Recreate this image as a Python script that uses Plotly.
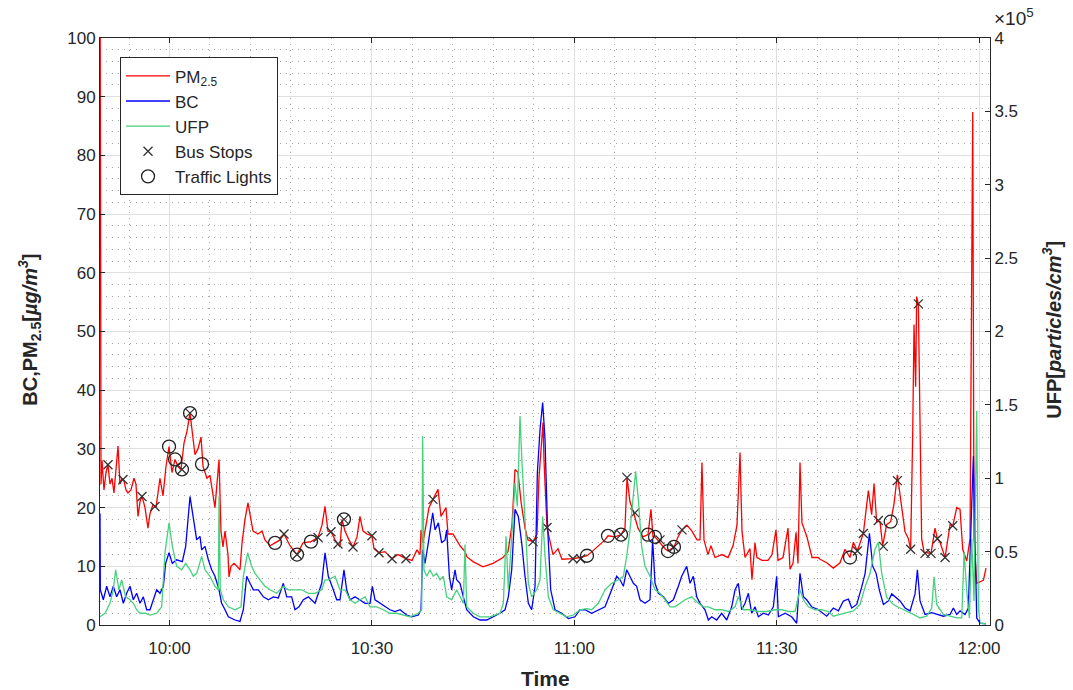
import pandas as pd
import plotly.graph_objects as go

# Measurement run, times given as minutes after 10:00
BASE = pd.Timestamp("2017-03-14 10:00:00")

pm_min = [-10.30, -10.15, -10.00, -9.71, -9.41, -9.12, -8.82, -8.52, -8.23, -7.93, -7.63, -7.34, -7.04,
          -6.74, -6.45, -6.15, -5.71, -5.26, -4.97, -4.67, -4.37, -4.08, -3.63, -3.19, -2.89, -2.45,
          -2.00, -1.41, -0.96, -0.52, -0.07, 0.37, 0.82, 1.26, 1.70, 2.15, 2.59, 3.04, 3.33, 3.78,
          4.22, 4.67, 4.97, 5.56, 6.00, 6.45, 6.74, 7.34, 7.63, 7.93, 8.23, 8.67, 8.82, 9.11, 9.56,
          10.00, 10.45, 10.75, 11.19, 11.63, 12.08, 12.38, 13.12, 13.71, 14.15, 14.90, 15.64, 16.38,
          16.97, 17.86, 18.90, 19.79, 20.97, 22.01, 22.60, 23.05, 23.49, 23.94, 24.53, 24.97, 25.27,
          25.57, 26.01, 26.60, 27.20, 27.79, 28.23, 28.68, 29.27, 30.01, 30.31, 31.05, 31.94, 32.98,
          33.87, 35.05, 35.94, 36.68, 37.13, 37.28, 37.57, 38.02, 38.46, 39.05, 39.80, 40.24, 40.98,
          41.28, 42.02, 43.06, 43.80, 44.09, 44.98, 46.46, 47.95, 49.43, 50.17, 50.76, 51.21, 51.65,
          52.10, 52.69, 53.13, 53.88, 54.47, 54.76, 55.36, 55.51, 55.80, 55.95, 56.84, 57.58, 58.17,
          59.80, 60.84, 61.88, 62.62, 63.51, 64.55, 64.99, 66.03, 66.92, 67.51, 67.81, 68.25, 68.70,
          69.44, 70.18, 70.92, 71.36, 71.66, 71.96, 72.55, 73.44, 73.88, 74.77, 75.37, 75.96, 76.70,
          77.44, 78.18, 78.63, 78.92, 79.22, 79.81, 80.26, 80.85, 81.89, 82.78, 83.52, 84.11, 84.56,
          84.85, 85.30, 86.04, 86.33, 86.78, 87.07, 87.82, 88.70, 89.30, 89.89, 90.19, 90.93, 91.67,
          91.97, 92.41, 92.86, 93.15, 93.45, 93.74, 94.48, 95.23, 96.12, 96.42, 97.41, 98.39, 99.38,
          100.12, 100.86, 101.36, 101.95, 102.84, 103.58, 104.07, 104.42, 104.81, 105.31, 105.70,
          106.29, 106.89, 107.38, 107.88, 108.52, 109.01, 109.51, 109.85, 110.15, 110.35, 110.59,
          110.74, 110.99, 111.24, 111.48, 111.83, 112.87, 113.46, 113.81, 114.21, 114.95, 115.69,
          116.09, 116.68, 117.17, 117.57, 118.16, 118.65, 119.05, 119.24, 119.64, 120.63, 121.02]
pm_val = [120, 24, 28, 23, 26, 27.3, 24, 25, 22.5, 26, 30.5, 24, 25,
          24.5, 23, 22.5, 23, 25, 24, 18.5, 21, 22, 20, 16.5, 19, 20.5,
          20, 25, 22, 27, 30.4, 26, 28.2, 27, 26.5, 31, 33, 36.1, 33, 29,
          30, 32, 27, 25, 25.5, 22, 20, 28.2, 16, 13.3, 16, 12, 8.2, 10, 10.5,
          10, 9.4, 14, 18, 20.8, 18, 16, 15.5, 16, 14.5, 13.5, 14, 14.5,
          15.5, 13.5, 12, 14, 14.2, 14.9, 17, 20.2, 16, 15.9, 14.5, 13.8, 13.3,
          18, 16, 14.5, 13.3, 15, 18.5, 16, 15.5, 15.2, 13, 12.3, 12.5, 11.3,
          12, 11.3, 11, 12.8, 12, 16.2, 14, 17, 20, 21.4, 23.1, 18.5, 20,
          15.5, 15.5, 13.5, 12.5, 11.6, 10.8, 9.9, 10.5, 11.5, 12.5, 17, 26.5, 26,
          21, 16.5, 14.5, 14.2, 15.5, 25, 34.5, 28, 18, 16.6, 12, 13, 11.2,
          11.3, 11.5, 11.8, 12.5, 13.5, 14.5, 15.2, 15, 15.4, 16.5, 25.1, 21, 19.5,
          16.5, 15, 15.4, 19.7, 15, 15, 14.2, 13, 12.6, 13.3, 15, 16.2, 17,
          16, 14.5, 14.5, 27.7, 14.5, 12, 13.5, 11.5, 12, 11.5, 13.5, 17, 29.4,
          16, 11.5, 13, 7.7, 14, 11.5, 11, 11, 12, 16.2, 11, 11.5, 16.5,
          9.5, 10.5, 15.8, 10.5, 27.7, 17.4, 15, 11.5, 11.5, 11.2, 10.6, 9.7, 10.6,
          12.9, 11.5, 14.1, 12.6, 15.6, 22.9, 18.8, 24.1, 17.6, 17.6, 13.5,
          17.1, 17.6, 20.6, 25.6, 20.6, 15.9, 14.7, 12.9, 32.4, 51.2, 40.6,
          55.9, 54.7, 32.4, 14.7, 12.4, 12.2, 16.5, 14.7, 14.1, 11.5, 17.1,
          16.9, 20.0, 19.7, 12.9, 10.9, 14.7, 87.4, 14.7, 7.1, 7.6, 9.7]

bc_min = [-10.30, -10.25, -9.81, -9.31, -8.82, -8.33, -7.83, -7.34, -6.84, -6.35, -5.85, -5.36, -4.87,
          -4.37, -3.88, -3.38, -2.89, -2.40, -1.90, -1.41, -0.91, -0.57, -0.07, 0.42, 1.06, 1.90,
          2.40, 3.04, 3.53, 4.03, 4.52, 4.77, 5.26, 5.76, 6.25, 6.74, 7.34, 7.73, 8.23, 8.72, 9.71,
          10.45, 10.94, 11.44, 11.93, 12.43, 13.17, 13.91, 14.65, 15.39, 16.13, 16.87, 17.37, 18.11,
          18.60, 19.19, 19.84, 20.58, 21.57, 22.56, 23.05, 23.54, 24.28, 24.78, 25.27, 25.86, 26.26,
          26.75, 27.50, 28.24, 28.98, 29.72, 30.07, 30.46, 31.20, 31.94, 32.68, 33.42, 34.17, 35.15,
          35.89, 36.88, 37.28, 37.52, 37.87, 38.36, 39.01, 39.36, 39.85, 40.34, 40.84, 41.08, 41.48,
          41.82, 42.32, 42.56, 43.06, 43.55, 44.05, 45.03, 46.02, 47.01, 48.00, 48.99, 49.73, 50.22,
          50.72, 51.21, 51.70, 52.20, 52.69, 53.19, 53.68, 54.18, 54.52, 54.92, 55.31, 55.66, 56.01,
          56.50, 57.14, 58.13, 59.12, 60.10, 60.84, 61.58, 62.57, 63.56, 64.55, 65.54, 66.28, 66.77,
          67.27, 67.76, 68.26, 68.75, 69.24, 69.74, 70.48, 71.22, 71.61, 71.96, 72.46, 73.20, 73.94,
          74.68, 75.42, 75.91, 76.66, 77.15, 77.64, 78.14, 78.63, 79.37, 79.87, 80.36, 81.10, 81.84,
          82.59, 83.33, 83.82, 84.31, 84.81, 85.30, 85.80, 86.29, 86.78, 87.28, 88.02, 88.76, 89.50,
          89.99, 90.24, 91.23, 92.21, 92.96, 93.45, 93.95, 94.44, 95.18, 96.17, 97.41, 98.39, 99.14,
          99.88, 100.62, 101.12, 101.86, 102.60, 103.10, 103.74, 104.23, 104.73, 105.22, 105.81,
          106.55, 107.05, 107.69, 108.28, 109.02, 109.76, 110.50, 110.85, 111.24, 111.98, 112.97,
          113.71, 114.70, 115.69, 116.18, 116.68, 117.17, 117.91, 118.40, 118.90, 119.15, 119.39,
          119.64, 120.14, 121.00]
bc_val = [19, 6.0, 4.3, 6.6, 4.8, 6.6, 4.8, 6.0, 3.7, 5.4, 6.6, 4.3, 5.4,
          3.7, 4.8, 2.6, 2.6, 4.3, 6.0, 5.4, 6.6, 10.5, 12.3, 10.5, 11.1, 10.8,
          13.4, 21.9, 18.5, 14.5, 15.1, 12.8, 13.4, 11.1, 9.4, 8.3, 6.0, 3.7, 2.6, 1.4, 0.85,
          0.6, 2.6, 8.3, 7.1, 6.0, 6.0, 4.8, 4.3, 4.8, 4.6, 7.1, 4.8, 4.8,
          2.6, 3.1, 4.3, 4.8, 3.7, 7.1, 12.3, 8.3, 6.0, 4.3, 4.3, 9.4, 6.0,
          4.3, 4.8, 4.3, 3.7, 3.7, 6.6, 4.3, 3.7, 3.1, 2.6, 2.3, 2.6, 1.7,
          1.4, 1.7, 2.6, 12.8, 10.5, 14.0, 19.1, 16.2, 17.4, 14.0, 14.5, 16.2, 8.3,
          6.0, 9.4, 7.7, 7.1, 4.8, 2.6, 1.4, 0.85, 0.85, 1.4, 2.0, 2.6, 4.8,
          9.4, 19.7, 18.5, 14.0, 8.3, 3.7, 2.6, 6.6, 25.9, 33.3, 37.9, 31.6, 17.4,
          6.0, 2.6, 2.0, 1.1, 1.4, 2.6, 2.6, 2.0, 2.6, 3.1, 6.0, 8.3, 7.7,
          6.6, 9.4, 8.3, 7.1, 6.6, 4.3, 3.7, 4.3, 14.5, 7.1, 5.4, 4.8, 3.7,
          4.3, 6.6, 8.3, 10.0, 7.1, 8.3, 4.8, 3.7, 2.6, 0.85, 1.4, 0.85, 2.0,
          0.85, 3.1, 6.0, 7.1, 2.6, 3.7, 5.4, 2.0, 3.1, 1.4, 2.0, 1.7, 3.1,
          8.3, 1.4, 2.0, 1.4, 0.3, 8.8, 4.8, 4.3, 3.1, 2.6, 1.5, 2.9, 2.4,
          4.1, 4.4, 2.9, 3.5, 6.5, 8.8, 15.6, 10.0, 8.8, 5.9, 3.5,
          4.1, 5.3, 4.7, 4.1, 2.9, 2.4, 5.3, 9.4, 4.1, 1.8, 2.1,
          1.8, 1.5, 1.8, 2.9, 1.8, 2.4, 1.8, 2.9, 20.6, 28.8, 14.7,
          1.2, 0.3, 0.2]

ufp_min = [-10.30, -9.56, -8.82, -8.33, -7.98, -7.49, -7.09, -6.50, -5.85, -5.36, -4.87, -4.37, -3.63,
           -2.89, -1.90, -1.16, -0.67, -0.07, 0.42, 1.06, 1.80, 2.40, 3.04, 3.53, 4.03, 4.77, 5.26,
           6.00, 6.74, 7.24, 7.34, 7.53, 7.98, 8.72, 9.71, 10.60, 10.94, 11.58, 12.17, 12.67, 13.41,
           14.15, 14.90, 15.88, 16.87, 17.62, 18.60, 19.59, 20.58, 21.57, 22.56, 23.05, 23.54, 24.53,
           25.27, 26.01, 26.75, 27.50, 28.24, 28.98, 29.72, 30.71, 31.69, 32.68, 33.67, 34.66, 35.65,
           36.88, 37.38, 37.52, 37.72, 38.12, 38.61, 39.10, 39.60, 40.09, 40.59, 41.08, 41.82, 42.56,
           43.06, 43.55, 43.80, 44.05, 45.03, 46.02, 47.50, 48.99, 49.48, 49.88, 50.22, 50.72, 51.21,
           51.56, 51.95, 52.20, 52.69, 53.19, 53.68, 54.42, 54.92, 55.31, 55.66, 56.15, 56.89, 57.88,
           58.87, 59.86, 60.84, 61.83, 62.57, 63.56, 64.55, 65.54, 66.53, 67.27, 67.76, 68.26, 68.75,
           69.09, 69.49, 69.98, 70.48, 71.22, 71.96, 72.70, 73.44, 74.19, 74.93, 75.67, 76.41, 77.40,
           78.39, 79.13, 79.87, 80.86, 81.84, 82.83, 83.82, 84.31, 85.05, 86.04, 87.28, 88.51, 89.75,
           90.74, 91.72, 92.71, 93.45, 93.95, 94.69, 95.68, 96.66, 97.65, 98.39, 99.38, 100.37,
           101.36, 102.35, 103.10, 103.83, 104.57, 105.06, 105.56, 106.30, 107.29, 108.27, 109.26,
           110.25, 111.24, 112.23, 112.97, 113.32, 113.71, 114.70, 115.69, 116.68, 117.42, 117.77,
           118.16, 118.55, 118.90, 119.24, 119.64, 119.89, 120.14, 121.00]
ufp_val = [5600, 8000, 14800, 24000, 37600, 24000, 30800, 19200, 17200, 14800, 10400, 8000, 8000,
           6800, 8000, 12400, 49200, 69600, 53600, 40000, 37600, 42000, 37600, 33200, 35200, 46800, 37600,
           33200, 26400, 24000, 87600, 24000, 17200, 12400, 10400, 12400, 33200, 49200, 40000, 35200, 30800,
           26400, 24000, 21600, 26400, 24000, 24000, 24000, 21600, 21600, 24000, 30800, 30800, 33200,
           24000, 24000, 17200, 14800, 17200, 19200, 12400, 12400, 10400, 8000, 8000, 6800, 5600,
           8000, 10400, 128800, 37600, 33200, 37600, 33200, 35200, 30800, 33200, 19200, 17200, 24000,
           19200, 14800, 54800, 12400, 8000, 5600, 5600, 8000, 14800, 60400, 24000, 62800, 96800,
           80800, 142400, 115200, 69600, 28400, 19200, 24000, 30800, 74000, 46800, 19200, 10400, 8000,
           5600, 6800, 10400, 11200, 10400, 14800, 24000, 28400, 30800, 33200, 46800, 64800, 87600,
           104800, 85600, 53600, 40000, 33200, 24000, 21600, 17200, 12400, 12400, 14800, 17200, 19200,
           14800, 12400, 12400, 10400, 10400, 9200, 12400, 19200, 10400, 10400, 9200, 9200, 10400,
           10400, 9200, 9200, 24000, 17200, 12400, 10400, 10400, 9200, 6000, 7200, 8400,
           9600, 14000, 26000, 35200, 51600, 56400, 35200, 18800, 14000, 11600, 9600,
           7200, 4800, 6000, 11600, 32800, 14000, 7200, 6000, 4800, 4800, 49600,
           23600, 4800, 58800, 16400, 146000, 11600, 1200, 800]

bus_min = [-9.12, -6.89, -4.08, -2.15, 1.85, 3.04, 16.97, 18.90, 22.01, 23.94, 24.97, 25.86, 27.20,
           30.01, 31.05, 32.98, 35.05, 39.05, 53.88, 55.95, 59.80, 60.94, 66.92, 67.81, 68.99, 72.70,
           74.77, 75.96, 101.95, 102.84, 105.06, 105.80, 107.88, 109.85, 110.99, 111.98, 112.87,
           113.81, 114.95, 116.09]
bus_val = [27.3, 24.8, 21.9, 20.2, 26.5, 36.1, 15.5, 12.0, 14.9, 15.9, 13.8, 18.0, 13.3,
           15.2, 12.3, 11.3, 11.3, 21.4, 14.2, 16.6, 11.3, 11.3, 15.4, 25.1, 19.1, 14.5,
           13.3, 16.2, 12.6, 15.6, 17.8, 13.4, 24.6, 12.9, 54.7, 12.2, 12.2,
           14.7, 11.5, 16.9]

light_min = [-0.07, 0.82, 1.85, 3.04, 4.82, 15.64, 18.90, 20.97, 25.86, 61.88, 64.99, 66.92, 70.92,
             71.96, 73.88, 74.77, 100.86, 106.89]
light_val = [30.4, 28.2, 26.5, 36.1, 27.4, 14.0, 12.0, 14.2, 18.0, 11.8, 15.2, 15.4, 15.4,
             15.0, 12.6, 13.3, 11.5, 17.6]

ufp_ticks = [0, 0.5, 1, 1.5, 2, 2.5, 3, 3.5, 4]


def clock(mins):
    return [BASE + pd.Timedelta(minutes=m) for m in mins]


FONT = "Arial, 'Liberation Sans', Helvetica, sans-serif"
INK = "#262626"
GREEN = "#46d17d"
GRID = "#e0e0e0"
DOTS = "#a6a6a6"
DOT_DASH = "1px,5px"

fig = go.Figure()
fig.add_trace(go.Scatter(x=clock(pm_min), y=pm_val, mode="lines", name="PM<sub>2.5</sub>",
                         line=dict(color="#ff0000", width=1.3)))
fig.add_trace(go.Scatter(x=clock(bc_min), y=bc_val, mode="lines", name="BC",
                         line=dict(color="#0000ff", width=1.3)))
fig.add_trace(go.Scatter(x=clock(ufp_min), y=ufp_val, mode="lines", name="UFP", yaxis="y2",
                         line=dict(color=GREEN, width=1.3)))
fig.add_trace(go.Scatter(x=clock(bus_min), y=bus_val, mode="markers", name="Bus Stops",
                         marker=dict(symbol="x-thin", size=9, color="#333333",
                                     line=dict(color="#333333", width=1.3))))
fig.add_trace(go.Scatter(x=clock(light_min), y=light_val, mode="markers", name="Traffic Lights",
                         marker=dict(symbol="circle-open", size=13, color="#222222",
                                     line=dict(color="#222222", width=1.3))))

x_start = BASE + pd.Timedelta(minutes=-10.30)
x_end = BASE + pd.Timedelta(minutes=121.61)
tick_origin = BASE.strftime("%Y-%m-%d %H:%M:%S")

fig.update_layout(
    width=1073, height=690,
    margin=dict(l=100, r=83, t=38, b=65),
    paper_bgcolor="white", plot_bgcolor="white",
    font=dict(family=FONT, size=17, color=INK),
    showlegend=True,
    legend=dict(x=0.0225, y=0.967, xanchor="left", yanchor="top",
                bgcolor="white", bordercolor=INK, borderwidth=1,
                font=dict(size=17, color=INK), tracegroupgap=0, itemwidth=44),
    xaxis=dict(
        type="date", range=[x_start, x_end],
        tick0=tick_origin, dtick=30 * 60 * 1000, tickformat="%H:%M",
        ticks="inside", ticklen=5, tickcolor=INK, ticklabelstandoff=8,
        showline=True, linecolor=INK, linewidth=1, mirror="ticks",
        showgrid=True, gridcolor=GRID, gridwidth=1,
        minor=dict(tick0=tick_origin, dtick=6 * 60 * 1000, showgrid=True,
                   gridcolor=DOTS, griddash=DOT_DASH, gridwidth=1),
        zeroline=False, tickfont=dict(size=17, color=INK),
    ),
    yaxis=dict(
        range=[0, 100], dtick=10, tick0=0,
        ticks="inside", ticklen=5, tickcolor=INK,
        showline=True, linecolor=INK, linewidth=1,
        showgrid=True, gridcolor=GRID, gridwidth=1,
        minor=dict(dtick=2, showgrid=True, gridcolor=DOTS, griddash=DOT_DASH, gridwidth=1),
        zeroline=False, tickfont=dict(size=17, color=INK),
    ),
    yaxis2=dict(
        overlaying="y", side="right", range=[0, 400000],
        tickvals=[v * 1e5 for v in ufp_ticks], ticktext=[f"{v:g}" for v in ufp_ticks],
        ticks="inside", ticklen=5, tickcolor=INK,
        showline=True, linecolor=INK, linewidth=1,
        showgrid=False, zeroline=False, tickfont=dict(size=17, color=INK),
    ),
    annotations=[
        dict(text="<b>Time</b>", xref="paper", yref="paper", x=0.5, y=-0.0904,
             xanchor="center", yanchor="middle", showarrow=False,
             font=dict(size=21, color=INK)),
        dict(text="<b>BC,PM<sub>2.5</sub>[<i>µg/m<sup>3</sup></i>]</b>", xref="paper", yref="paper",
             x=-0.0787, y=0.503, xanchor="center", yanchor="middle", textangle=-90,
             showarrow=False, font=dict(size=20, color=INK)),
        dict(text="<b>UFP[<i>particles/cm<sup>3</sup></i>]</b>", xref="paper", yref="paper",
             x=1.0697, y=0.503, xanchor="center", yanchor="middle", textangle=-90,
             showarrow=False, font=dict(size=20, color=INK)),
        dict(text="×10<sup>5</sup>", xref="paper", yref="paper", x=1.002, y=1.0,
             xanchor="left", yanchor="bottom", yshift=7, showarrow=False,
             font=dict(size=19, color=INK)),
    ],
)

fig.write_html("out.html")
